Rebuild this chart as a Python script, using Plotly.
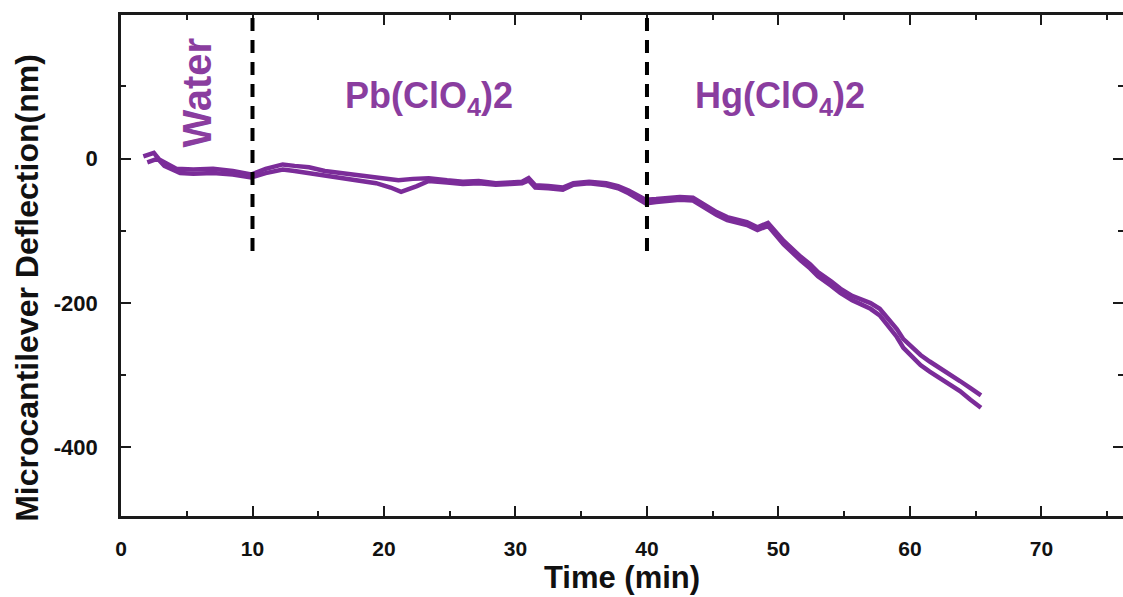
import plotly.graph_objects as go

# ---- data ----
t_upper = [1.7, 2.5, 2.9, 3.6, 4.2, 5.5, 7.0, 8.5, 9.9, 11.0, 12.3, 13.2, 14.3, 15.5, 16.9, 18.2, 19.4, 21.1,
           22.2, 23.4, 24.8, 26.0, 27.2, 28.5, 29.6, 30.5, 31.0, 31.5, 32.5, 33.6, 34.4, 35.6, 36.9, 37.8,
           38.6, 39.9, 40.7, 41.5, 42.5, 43.5, 44.6, 45.3, 46.1, 46.9, 47.6, 48.4, 49.2, 50.4, 51.0, 51.7,
           52.4, 53.0, 54.0, 54.7, 55.6, 56.3, 57.0, 57.7, 58.3, 59.0, 59.5, 60.2, 60.8, 61.5, 62.3, 63.0,
           63.8, 64.6, 65.4]
v_upper = [3, 8, -1, -8, -14, -15, -14, -17, -22, -14, -8, -10, -12, -17, -20, -23, -26, -30,
           -28, -27, -30, -32, -31, -34, -33, -32, -27, -37, -38, -40, -34, -32, -34, -38,
           -44, -57, -56, -55, -53, -54, -67, -74, -81, -85, -88, -95, -89, -114, -125, -136,
           -146, -157, -170, -180, -190, -195, -200, -208, -220, -236, -250, -262, -272, -281, -290, -299,
           -308, -318, -328]

t_lower = [2.0, 2.8, 3.3, 4.5, 5.5, 7.0, 8.5, 9.9, 11.0, 12.3, 13.2, 14.3, 15.5, 16.9, 18.2, 19.4, 20.5,
           21.3, 22.5, 23.4, 24.8, 26.0, 27.2, 28.5, 29.6, 30.5, 31.0, 31.5, 32.5, 33.6, 34.4, 35.6, 36.9,
           37.8, 38.6, 39.9, 40.7, 41.5, 42.5, 43.5, 44.6, 45.3, 46.1, 46.9, 47.6, 48.4, 49.2, 50.4, 51.0,
           51.7, 52.4, 53.0, 54.0, 54.7, 55.6, 56.3, 57.0, 57.7, 58.3, 59.0, 59.5, 60.2, 60.8, 61.5, 62.3,
           63.0, 63.8, 64.6, 65.4]
v_lower = [-5, 0, -10, -20, -21, -20, -22, -26, -20, -15, -17, -20, -24, -28, -31, -34, -40,
           -46, -38, -31, -33, -35, -34, -36, -35, -34, -30, -40, -41, -43, -36, -34, -37,
           -41, -48, -62, -60, -59, -57, -58, -71, -78, -85, -89, -92, -99, -93, -119, -130,
           -141, -152, -163, -176, -186, -196, -202, -208, -217, -230, -247, -262, -276, -286, -295, -304,
           -313, -322, -334, -345]

event_times = [10, 40]
event_labels = ["Water", "Pb(ClO<sub>4</sub>)2", "Hg(ClO<sub>4</sub>)2"]

x_ticks = [0, 10, 20, 30, 40, 50, 60, 70]
y_ticks = [-400, -200, 0]

LINE = "#7b2c99"
TEXT = "#8a3d9f"
FONT = "Liberation Sans"

fig = go.Figure()
for t, v in [(t_upper, v_upper), (t_lower, v_lower)]:
    fig.add_trace(go.Scatter(x=t, y=v, mode="lines",
                             line=dict(color=LINE, width=4.5), showlegend=False))

for et in event_times:
    fig.add_shape(type="line", x0=et, x1=et, y0=-128, y1=199, xref="x", yref="y",
                  line=dict(color="black", width=4, dash="13px,9px"))

fig.add_annotation(x=5.8, y=92, text="<b>" + event_labels[0] + "</b>", textangle=-90,
                   showarrow=False, font=dict(family=FONT, size=40, color=TEXT))
fig.add_annotation(x=16.9, y=84, text="<b>" + event_labels[1] + "</b>", xanchor="left",
                   showarrow=False, font=dict(family=FONT, size=36, color=TEXT))
fig.add_annotation(x=43.5, y=84, text="<b>" + event_labels[2] + "</b>", xanchor="left",
                   showarrow=False, font=dict(family=FONT, size=36, color=TEXT))

# y-axis title placed as a rotated annotation (centred slightly below the plot centre)
fig.add_annotation(x=-0.094, y=0.455, xref="paper", yref="paper", xanchor="center", yanchor="middle",
                   text="<b>Microcantilever Deflection(nm)</b>", textangle=-90, showarrow=False,
                   font=dict(family=FONT, size=32, color="#111"))

axis_common = dict(showgrid=False, zeroline=False, showline=True, linecolor="#1a1a1a",
                   linewidth=2.5, mirror="allticks", ticks="inside", ticklen=10, tickwidth=2,
                   tickcolor="#1a1a1a", automargin=False)

fig.update_xaxes(range=[0, 76.2], tickvals=x_ticks, ticktext=[str(v) for v in x_ticks],
                 minor=dict(dtick=5, ticks="inside", ticklen=5, tickwidth=2, tickcolor="#1a1a1a"),
                 tickfont=dict(family=FONT, size=21, color="#111", weight="bold"),
                 title=dict(text="<b>Time (min)</b>", font=dict(family=FONT, size=31, color="#111"),
                            standoff=4),
                 ticklabelstandoff=12, **axis_common)
fig.update_yaxes(range=[-495, 199], tickvals=y_ticks, ticktext=[str(v) for v in y_ticks],
                 minor=dict(dtick=100, ticks="inside", ticklen=5, tickwidth=2, tickcolor="#1a1a1a"),
                 tickfont=dict(family=FONT, size=22, color="#111", weight="bold"),
                 ticklabelstandoff=16, **axis_common)

fig.update_layout(width=1123, height=597, margin=dict(l=121, r=0, t=15, b=81),
                  plot_bgcolor="white", paper_bgcolor="white")

fig.write_html("out.html", config={"displayModeBar": False},
               post_script="document.body.style.margin='0';document.body.style.overflow='hidden';")
